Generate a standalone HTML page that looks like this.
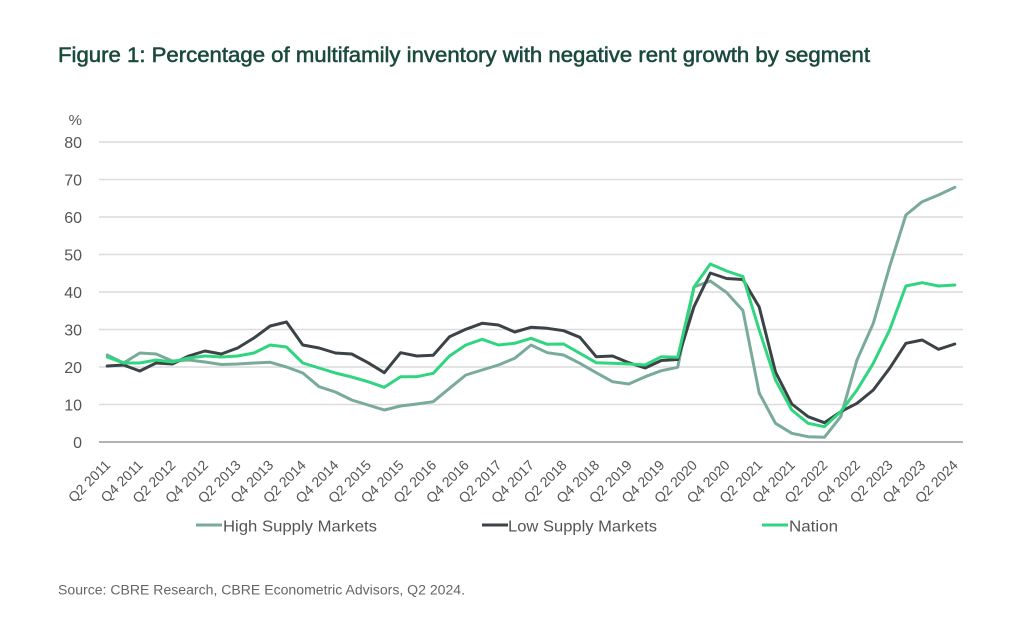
<!DOCTYPE html>
<html>
<head>
<meta charset="utf-8">
<style>
  html, body { margin: 0; padding: 0; background: #ffffff; }
  svg { display: block; }
  text { font-family: "Liberation Sans", Arial, sans-serif; }
</style>
</head>
<body>
<svg width="1024" height="619" viewBox="0 0 1024 619" xmlns="http://www.w3.org/2000/svg">
  <rect x="0" y="0" width="1024" height="619" fill="#ffffff"/>

  <!-- Title -->
  <text x="58" y="62" font-size="21" fill="#1a4a3c" stroke="#1a4a3c" stroke-width="0.55" textLength="812" lengthAdjust="spacingAndGlyphs">Figure 1: Percentage of multifamily inventory with negative rent growth by segment</text>

  <!-- Gridlines -->
  <g stroke="#dcdcdc" stroke-width="1.5">
    <line x1="99" y1="142" x2="963" y2="142"/>
    <line x1="99" y1="179.5" x2="963" y2="179.5"/>
    <line x1="99" y1="217" x2="963" y2="217"/>
    <line x1="99" y1="254.5" x2="963" y2="254.5"/>
    <line x1="99" y1="292" x2="963" y2="292"/>
    <line x1="99" y1="329.5" x2="963" y2="329.5"/>
    <line x1="99" y1="367" x2="963" y2="367"/>
    <line x1="99" y1="404.5" x2="963" y2="404.5"/>
  </g>
  <line x1="99" y1="442" x2="963" y2="442" stroke="#9a9a9a" stroke-width="1.5"/>

  <!-- Y axis labels -->
  <g font-size="16" fill="#555555" text-anchor="end">
    <text x="82" y="125" font-size="15">%</text>
    <text x="82" y="148">80</text>
    <text x="82" y="185.5">70</text>
    <text x="82" y="223">60</text>
    <text x="82" y="260.5">50</text>
    <text x="82" y="298">40</text>
    <text x="82" y="335.5">30</text>
    <text x="82" y="373">20</text>
    <text x="82" y="410.5">10</text>
    <text x="82" y="448">0</text>
  </g>

  <!-- X axis labels -->
  <g font-size="14" fill="#555555" text-anchor="end">
    <text transform="translate(111.2,466) rotate(-45)">Q2 2011</text>
    <text transform="translate(143.8,466) rotate(-45)">Q4 2011</text>
    <text transform="translate(176.4,466) rotate(-45)">Q2 2012</text>
    <text transform="translate(209.0,466) rotate(-45)">Q4 2012</text>
    <text transform="translate(241.6,466) rotate(-45)">Q2 2013</text>
    <text transform="translate(274.2,466) rotate(-45)">Q4 2013</text>
    <text transform="translate(306.8,466) rotate(-45)">Q2 2014</text>
    <text transform="translate(339.4,466) rotate(-45)">Q4 2014</text>
    <text transform="translate(372.0,466) rotate(-45)">Q2 2015</text>
    <text transform="translate(404.6,466) rotate(-45)">Q4 2015</text>
    <text transform="translate(437.2,466) rotate(-45)">Q2 2016</text>
    <text transform="translate(469.8,466) rotate(-45)">Q4 2016</text>
    <text transform="translate(502.4,466) rotate(-45)">Q2 2017</text>
    <text transform="translate(535.0,466) rotate(-45)">Q4 2017</text>
    <text transform="translate(567.6,466) rotate(-45)">Q2 2018</text>
    <text transform="translate(600.2,466) rotate(-45)">Q4 2018</text>
    <text transform="translate(632.8,466) rotate(-45)">Q2 2019</text>
    <text transform="translate(665.4,466) rotate(-45)">Q4 2019</text>
    <text transform="translate(698.0,466) rotate(-45)">Q2 2020</text>
    <text transform="translate(730.6,466) rotate(-45)">Q4 2020</text>
    <text transform="translate(763.2,466) rotate(-45)">Q2 2021</text>
    <text transform="translate(795.8,466) rotate(-45)">Q4 2021</text>
    <text transform="translate(828.4,466) rotate(-45)">Q2 2022</text>
    <text transform="translate(861.0,466) rotate(-45)">Q4 2022</text>
    <text transform="translate(893.6,466) rotate(-45)">Q2 2023</text>
    <text transform="translate(926.2,466) rotate(-45)">Q4 2023</text>
    <text transform="translate(958.8,466) rotate(-45)">Q2 2024</text>
  </g>

  <!-- High Supply Markets -->
  <polyline fill="none" stroke="#7aab9a" stroke-width="3" stroke-linejoin="round" stroke-linecap="round"
    points="107.2,355 123.5,363 139.8,353 156.1,354 172.4,361 188.7,360 205.0,362 221.3,364.5 237.6,364 253.9,363 270.2,362.3 286.5,367 302.8,373 319.1,386.7 335.4,392 351.7,400 368.0,405 384.3,410 400.6,406 416.9,404 433.2,401.7 449.5,388.3 465.8,375 482.1,370 498.4,365 514.7,358.3 531.0,345 547.3,352.7 563.6,355 579.9,363.3 596.2,372.7 612.5,381.7 628.8,384 645.1,376.7 661.4,370.7 677.7,367.3 694.0,287 710.3,281 726.6,292.5 742.9,310.5 759.2,393 775.5,423.3 791.8,433.3 808.1,436.7 824.4,437.3 840.7,416.7 857.0,360 873.3,323.3 889.6,266.7 905.9,215 922.2,201.7 938.5,195 954.8,187.3"/>

  <!-- Low Supply Markets -->
  <polyline fill="none" stroke="#3b4346" stroke-width="3" stroke-linejoin="round" stroke-linecap="round"
    points="107.2,366 123.5,365 139.8,371 156.1,363 172.4,364 188.7,356 205.0,351 221.3,354 237.6,348 253.9,338 270.2,326 286.5,322 302.8,345 319.1,348 335.4,353 351.7,354 368.0,362.7 384.3,372.7 400.6,352.7 416.9,356 433.2,355.3 449.5,336.7 465.8,329.3 482.1,323.3 498.4,325 514.7,332 531.0,327.3 547.3,328.3 563.6,330.7 579.9,337.3 596.2,356.7 612.5,356 628.8,362.7 645.1,368 661.4,360.5 677.7,359.5 694.0,306.7 710.3,273 726.6,278.5 742.9,279.5 759.2,307 775.5,372 791.8,404 808.1,416.7 824.4,422.7 840.7,411.7 857.0,403.3 873.3,390 889.6,368.3 905.9,343.3 922.2,340 938.5,349.3 954.8,344"/>

  <!-- Nation -->
  <polyline fill="none" stroke="#2fd67f" stroke-width="3" stroke-linejoin="round" stroke-linecap="round"
    points="107.2,357 123.5,363 139.8,363 156.1,360 172.4,362 188.7,358 205.0,356 221.3,357 237.6,356 253.9,353 270.2,345 286.5,347 302.8,363 319.1,368 335.4,373 351.7,377 368.0,381.7 384.3,387.3 400.6,376.7 416.9,376.7 433.2,373.3 449.5,356 465.8,345 482.1,339.3 498.4,345 514.7,343.3 531.0,338.3 547.3,344.3 563.6,344 579.9,353.3 596.2,362.7 612.5,363.3 628.8,364 645.1,365 661.4,356.7 677.7,357.3 694.0,287 710.3,264 726.6,271 742.9,276.5 759.2,330 775.5,380 791.8,410 808.1,423.3 824.4,426.7 840.7,411.7 857.0,390 873.3,363.3 889.6,330 905.9,286 922.2,282.7 938.5,286 954.8,285"/>

  <!-- Legend -->
  <line x1="196" y1="525" x2="222" y2="525" stroke="#7aab9a" stroke-width="3"/>
  <text x="223" y="531.5" font-size="16" fill="#555555" textLength="154" lengthAdjust="spacingAndGlyphs">High Supply Markets</text>
  <line x1="482" y1="525" x2="508" y2="525" stroke="#3b4346" stroke-width="3"/>
  <text x="508" y="531.5" font-size="16" fill="#555555" textLength="149" lengthAdjust="spacingAndGlyphs">Low Supply Markets</text>
  <line x1="762" y1="525" x2="788" y2="525" stroke="#2fd67f" stroke-width="3"/>
  <text x="789" y="531.5" font-size="16" fill="#555555" textLength="49" lengthAdjust="spacingAndGlyphs">Nation</text>

  <!-- Source -->
  <text x="58" y="594.5" font-size="13.5" fill="#666666" textLength="407" lengthAdjust="spacingAndGlyphs">Source: CBRE Research, CBRE Econometric Advisors, Q2 2024.</text>
</svg>
</body>
</html>
